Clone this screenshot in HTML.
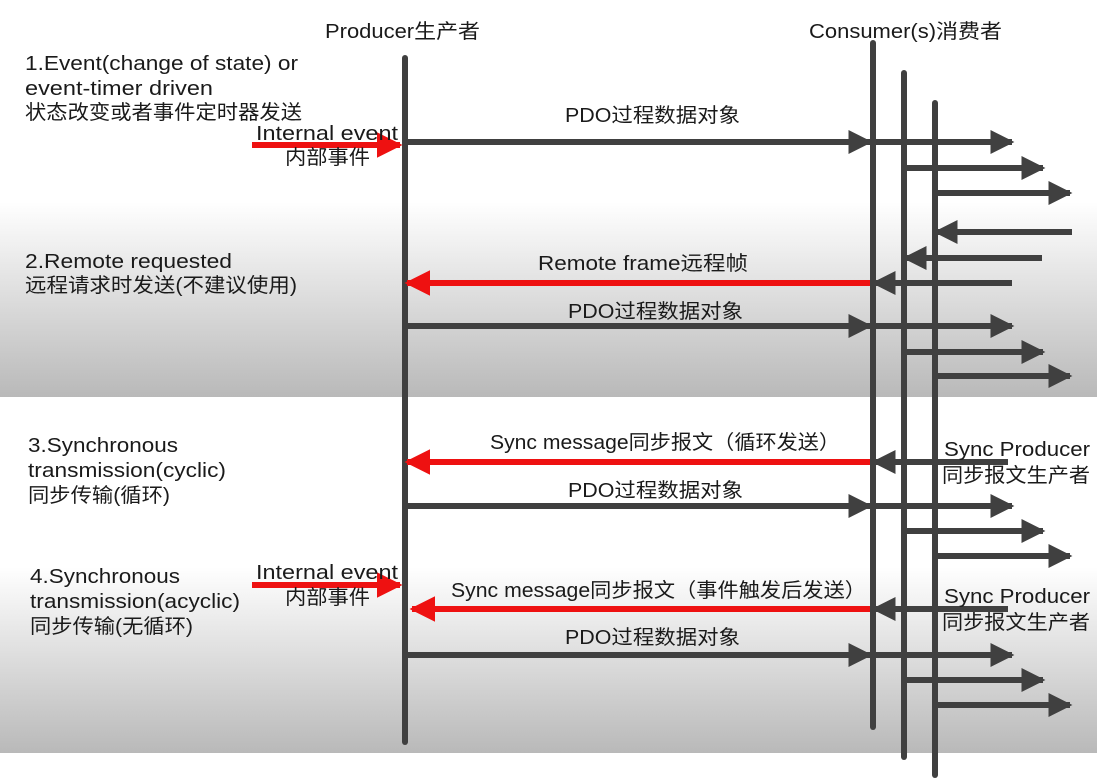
<!DOCTYPE html>
<html><head><meta charset="utf-8"><style>
html,body{margin:0;padding:0;background:#fff;width:1102px;height:778px;overflow:hidden}
svg text{font-family:"Liberation Sans","Noto Sans CJK SC",sans-serif;font-size:20px;fill:#1a1a1a}
</style></head><body>
<svg width="1102" height="778" viewBox="0 0 1102 778" xmlns="http://www.w3.org/2000/svg">
<defs>
<linearGradient id="g" x1="0" y1="0" x2="0" y2="1">
<stop offset="0" stop-color="#ffffff"/><stop offset="1" stop-color="#b9b9b9"/></linearGradient>
<marker id="ad" viewBox="0 0 10 10" refX="9" refY="5" markerWidth="4" markerHeight="4" orient="auto"><path d="M0,0L10,5L0,10z" fill="#404040"/></marker>
<marker id="ar" viewBox="0 0 10 10" refX="9" refY="5" markerWidth="4.3" markerHeight="4.3" orient="auto"><path d="M0,0L10,5L0,10z" fill="#ee1111"/></marker>
</defs>
<rect x="0" y="202" width="1097" height="195" fill="url(#g)"/>
<rect x="0" y="567" width="1097" height="186" fill="url(#g)"/>
<g stroke="#404040" stroke-width="6" stroke-linecap="round">
<line x1="405" y1="58" x2="405" y2="742"/>
<line x1="873" y1="43" x2="873" y2="727"/>
<line x1="904" y1="73" x2="904" y2="757"/>
<line x1="935" y1="103" x2="935" y2="775"/>
</g>
<g stroke="#404040" stroke-width="6" marker-end="url(#ad)">
<line x1="405" y1="142" x2="870" y2="142"/>
<line x1="873" y1="142" x2="1012" y2="142"/>
<line x1="904" y1="168" x2="1043" y2="168"/>
<line x1="935" y1="193" x2="1070" y2="193"/>
<line x1="1072" y1="232" x2="936" y2="232"/>
<line x1="1042" y1="258" x2="905" y2="258"/>
<line x1="1012" y1="283" x2="874" y2="283"/>
<line x1="405" y1="326" x2="870" y2="326"/>
<line x1="873" y1="326" x2="1012" y2="326"/>
<line x1="904" y1="352" x2="1043" y2="352"/>
<line x1="935" y1="376" x2="1070" y2="376"/>
<line x1="1008" y1="462" x2="874" y2="462"/>
<line x1="405" y1="506" x2="870" y2="506"/>
<line x1="873" y1="506" x2="1012" y2="506"/>
<line x1="904" y1="531" x2="1043" y2="531"/>
<line x1="935" y1="556" x2="1070" y2="556"/>
<line x1="1008" y1="609" x2="874" y2="609"/>
<line x1="405" y1="655" x2="870" y2="655"/>
<line x1="873" y1="655" x2="1012" y2="655"/>
<line x1="904" y1="680" x2="1043" y2="680"/>
<line x1="935" y1="705" x2="1070" y2="705"/>
</g>
<g stroke="#ee1111" stroke-width="6" marker-end="url(#ar)">
<line x1="870" y1="283" x2="407" y2="283"/>
<line x1="870" y1="462" x2="407" y2="462"/>
<line x1="870" y1="609" x2="412" y2="609"/>
<line x1="252" y1="145" x2="400" y2="145"/>
<line x1="252" y1="585" x2="400" y2="585"/>
</g>
<g lengthAdjust="spacingAndGlyphs">
<text x="325" y="38" textLength="155" lengthAdjust="spacingAndGlyphs">Producer生产者</text>
<text x="809" y="38" textLength="193" lengthAdjust="spacingAndGlyphs">Consumer(s)消费者</text>
<text x="25" y="70" textLength="273" lengthAdjust="spacingAndGlyphs">1.Event(change of state) or</text>
<text x="25" y="95" textLength="188" lengthAdjust="spacingAndGlyphs">event-timer driven</text>
<text x="25" y="119" textLength="277" lengthAdjust="spacingAndGlyphs">状态改变或者事件定时器发送</text>
<text x="256" y="140" textLength="142" lengthAdjust="spacingAndGlyphs">Internal event</text>
<text x="285" y="164" textLength="85" lengthAdjust="spacingAndGlyphs">内部事件</text>
<text x="565" y="122" textLength="175" lengthAdjust="spacingAndGlyphs">PDO过程数据对象</text>
<text x="25" y="268" textLength="207" lengthAdjust="spacingAndGlyphs">2.Remote requested</text>
<text x="25" y="292" textLength="272" lengthAdjust="spacingAndGlyphs">远程请求时发送(不建议使用)</text>
<text x="538" y="270" textLength="210" lengthAdjust="spacingAndGlyphs">Remote frame远程帧</text>
<text x="568" y="318" textLength="175" lengthAdjust="spacingAndGlyphs">PDO过程数据对象</text>
<text x="28" y="452" textLength="150" lengthAdjust="spacingAndGlyphs">3.Synchronous</text>
<text x="28" y="477" textLength="198" lengthAdjust="spacingAndGlyphs">transmission(cyclic)</text>
<text x="28" y="502" textLength="142" lengthAdjust="spacingAndGlyphs">同步传输(循环)</text>
<text x="490" y="449" textLength="350" lengthAdjust="spacingAndGlyphs">Sync message同步报文（循环发送）</text>
<text x="568" y="497" textLength="175" lengthAdjust="spacingAndGlyphs">PDO过程数据对象</text>
<text x="944" y="456" textLength="146" lengthAdjust="spacingAndGlyphs">Sync Producer</text>
<text x="942" y="482" textLength="148" lengthAdjust="spacingAndGlyphs">同步报文生产者</text>
<text x="30" y="583" textLength="150" lengthAdjust="spacingAndGlyphs">4.Synchronous</text>
<text x="30" y="608" textLength="210" lengthAdjust="spacingAndGlyphs">transmission(acyclic)</text>
<text x="30" y="633" textLength="163" lengthAdjust="spacingAndGlyphs">同步传输(无循环)</text>
<text x="256" y="579" textLength="142" lengthAdjust="spacingAndGlyphs">Internal event</text>
<text x="285" y="604" textLength="85" lengthAdjust="spacingAndGlyphs">内部事件</text>
<text x="451" y="597" textLength="415" lengthAdjust="spacingAndGlyphs">Sync message同步报文（事件触发后发送）</text>
<text x="565" y="644" textLength="175" lengthAdjust="spacingAndGlyphs">PDO过程数据对象</text>
<text x="944" y="603" textLength="146" lengthAdjust="spacingAndGlyphs">Sync Producer</text>
<text x="942" y="629" textLength="148" lengthAdjust="spacingAndGlyphs">同步报文生产者</text>
</g>
</svg>
</body></html>
